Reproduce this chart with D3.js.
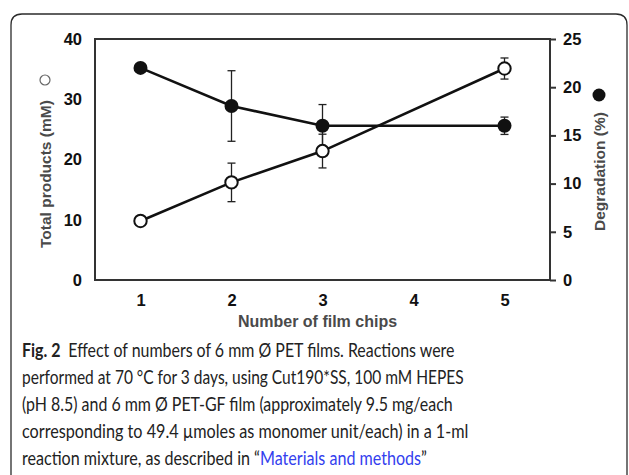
<!DOCTYPE html>
<html>
<head>
<meta charset="utf-8">
<script src="https://cdn.jsdelivr.net/npm/d3@7"></script>
<style>
  body { margin: 0; background: #fff; }
  svg { display: block; }
</style>
</head>
<body>
<div id="chart"></div>
<script>
// data
var chips = [1, 2, 3, 5];
var xTicks = [1, 2, 3, 4, 5];
var totalProducts = [9.8, 16.2, 21.4, 35.1];      // mM, open circles, left axis
var totalProductsErr = [0, 3.2, 2.8, 1.75];
var degradation = [22.0, 18.05, 16.0, 16.0];      // %, filled circles, right axis
var degradationErr = [0, 3.66, 2.2, 0.9];
var leftTicks = [0, 10, 20, 30, 40];
var rightTicks = [0, 5, 10, 15, 20, 25];

var captionLines = [
  [{t: "Fig. 2", b: true}, {t: "\u2002Effect of numbers of 6 mm \u00d8 PET films. Reactions were"}],
  [{t: "performed at 70 \u00b0C for 3 days, using Cut190*SS, 100 mM HEPES"}],
  [{t: "(pH 8.5) and 6 mm \u00d8 PET-GF film (approximately 9.5 mg/each"}],
  [{t: "corresponding to 49.4 \u00b5moles as monomer unit/each) in a 1-ml"}],
  [{t: "reaction mixture, as described in \u201c"}, {t: "Materials and methods", link: true}, {t: "\u201d"}]
];
var captionWidths = [433, 442, 431, 447, 405];

var w = 629, h = 475
  , marginLeft = 95, marginRight = 79, marginTop = 39, marginBottom = 195
  , contentsWidth = w - marginLeft - marginRight, contentsHeight = h - marginTop - marginBottom;

var svg = d3.select("#chart").append("svg")
    .attr("width", w)
    .attr("height", h);

// card border (open at the bottom)
svg.append("path")
    .attr("d", "M11,475 L11,25 Q11,14 22,14 L616,14 Q627,14 627,25 L627,475")
    .attr("fill", "none")
    .attr("stroke", "#2b2b2b")
    .attr("stroke-width", 1.3);

var g = svg.append("g")
    .attr("transform", "translate(" + marginLeft + "," + marginTop + ")");

var xScale = d3.scaleLinear().domain([0.5, 5.5]).range([0, contentsWidth]);
var yLeft = d3.scaleLinear().domain([0, 40]).range([contentsHeight, 0]);
var yRight = d3.scaleLinear().domain([0, 25]).range([contentsHeight, 0]);

// frame
g.append("rect")
    .attr("x", 0).attr("y", 0)
    .attr("width", contentsWidth).attr("height", contentsHeight)
    .attr("fill", "none")
    .attr("stroke", "#333")
    .attr("stroke-width", 2);

var tickFont = "'Liberation Sans', Arial, sans-serif";

var xAxis = d3.axisBottom(xScale).tickValues(xTicks).tickSize(0).tickPadding(14).tickFormat(d3.format("d"));
var leftAxis = d3.axisLeft(yLeft).tickValues(leftTicks).tickSize(0).tickPadding(13);
var rightAxis = d3.axisRight(yRight).tickValues(rightTicks).tickSize(6).tickPadding(7);

function styleAxis(sel) {
  sel.select(".domain").remove();
  sel.selectAll("text")
      .attr("font-family", tickFont)
      .attr("font-weight", "bold")
      .attr("font-size", 16.5)
      .attr("fill", "#111");
  sel.selectAll("line").attr("stroke", "#333").attr("stroke-width", 2);
}

g.append("g").attr("class", "x axis")
    .attr("transform", "translate(0," + contentsHeight + ")")
    .call(xAxis).call(styleAxis);
g.append("g").attr("class", "y axis")
    .call(leftAxis).call(styleAxis);
g.append("g").attr("class", "y2 axis")
    .attr("transform", "translate(" + contentsWidth + ",0)")
    .call(rightAxis).call(styleAxis);

// axis titles
svg.append("text")
    .attr("x", marginLeft + contentsWidth / 2 - 5)
    .attr("y", 327)
    .attr("text-anchor", "middle")
    .attr("font-family", tickFont)
    .attr("font-weight", "bold")
    .attr("font-size", 16)
    .attr("fill", "#4a4a4a")
    .text("Number of film chips");

svg.append("text")
    .attr("transform", "translate(51,248) rotate(-90)")
    .attr("font-family", tickFont)
    .attr("font-weight", "bold")
    .attr("font-size", 15.5)
    .attr("fill", "#4a4a4a")
    .text("Total products (mM)");
svg.append("circle")
    .attr("cx", 45).attr("cy", 80).attr("r", 5)
    .attr("fill", "#fff").attr("stroke", "#666").attr("stroke-width", 1.2);

svg.append("text")
    .attr("transform", "translate(605,231) rotate(-90)")
    .attr("font-family", tickFont)
    .attr("font-weight", "bold")
    .attr("font-size", 15.5)
    .attr("fill", "#4a4a4a")
    .text("Degradation (%)");
svg.append("circle")
    .attr("cx", 599).attr("cy", 95).attr("r", 6.5)
    .attr("fill", "#111");

// series
var openData = chips.map(function(c, i) { return {x: c, y: totalProducts[i], e: totalProductsErr[i]}; });
var fillData = chips.map(function(c, i) { return {x: c, y: degradation[i], e: degradationErr[i]}; });

function errorBars(data, yScale) {
  var eb = g.append("g").selectAll("g").data(data.filter(function(d) { return d.e > 0; }))
      .enter().append("g")
      .attr("stroke", "#222").attr("stroke-width", 1.3);
  eb.append("line")
      .attr("x1", function(d) { return xScale(d.x); })
      .attr("x2", function(d) { return xScale(d.x); })
      .attr("y1", function(d) { return yScale(d.y - d.e); })
      .attr("y2", function(d) { return yScale(d.y + d.e); });
  [-1, 1].forEach(function(s) {
    eb.append("line")
        .attr("x1", function(d) { return xScale(d.x) - 4; })
        .attr("x2", function(d) { return xScale(d.x) + 4; })
        .attr("y1", function(d) { return yScale(d.y + s * d.e); })
        .attr("y2", function(d) { return yScale(d.y + s * d.e); });
  });
}
errorBars(fillData, yRight);
errorBars(openData, yLeft);

function lineFor(yScale) {
  return d3.line().x(function(d) { return xScale(d.x); }).y(function(d) { return yScale(d.y); });
}
g.append("path").datum(fillData)
    .attr("d", lineFor(yRight))
    .attr("fill", "none").attr("stroke", "#111").attr("stroke-width", 2.6);
g.append("path").datum(openData)
    .attr("d", lineFor(yLeft))
    .attr("fill", "none").attr("stroke", "#111").attr("stroke-width", 2.6);

g.append("g").selectAll("circle").data(fillData).enter().append("circle")
    .attr("cx", function(d) { return xScale(d.x); })
    .attr("cy", function(d) { return yRight(d.y); })
    .attr("r", 7)
    .attr("fill", "#111");
g.append("g").selectAll("circle").data(openData).enter().append("circle")
    .attr("cx", function(d) { return xScale(d.x); })
    .attr("cy", function(d) { return yLeft(d.y); })
    .attr("r", 6.2)
    .attr("fill", "#fff")
    .attr("stroke", "#111").attr("stroke-width", 2);

// caption
var capFont = "Lato, 'Open Sans', sans-serif";
captionLines.forEach(function(parts, i) {
  var y = 357 + i * 27;
  var txt = svg.append("text")
      .attr("x", 22).attr("y", y)
      .attr("font-family", capFont)
      .attr("font-size", 19.5)
      .attr("fill", "#222");
  parts.forEach(function(p) {
    txt.append("tspan")
        .attr("font-weight", p.b ? "bold" : "normal")
        .attr("fill", p.link ? "#3340ee" : null)
        .text(p.t);
  });
  var len = txt.node().getComputedTextLength();
  var sx = captionWidths[i] / len;
  txt.attr("transform", "translate(22," + y + ") scale(" + sx + ",1) translate(-22," + (-y) + ")");
});
</script>
</body>
</html>
